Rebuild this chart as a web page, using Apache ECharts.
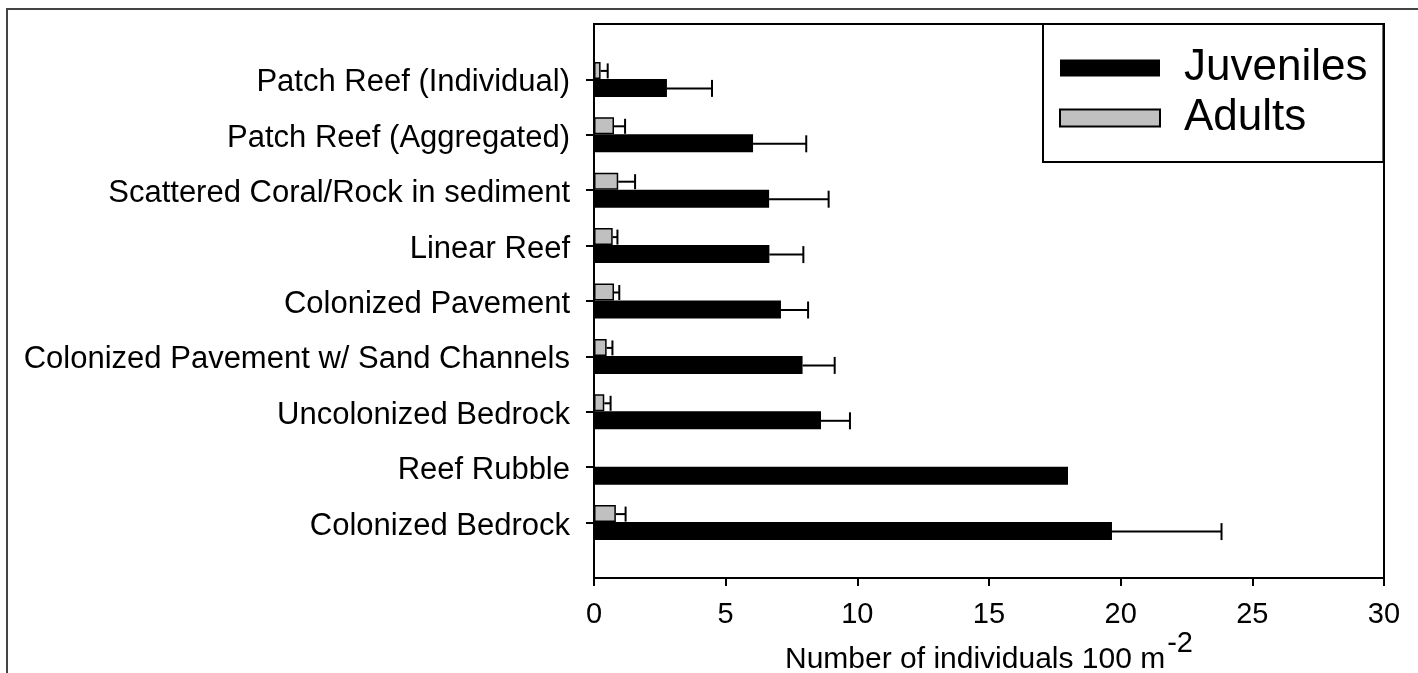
<!DOCTYPE html>
<html>
<head>
<meta charset="utf-8">
<script src="https://cdn.jsdelivr.net/npm/echarts@6/dist/echarts.min.js"></script>
<style>
html,body{margin:0;padding:0;background:#fff;}
#chart{width:1418px;height:673px;}
</style>
</head>
<body>
<div id="chart"></div>
<script>
// Categories, top to bottom as drawn
const categories = [
  'Patch Reef (Individual)',
  'Patch Reef (Aggregated)',
  'Scattered Coral/Rock in sediment',
  'Linear Reef',
  'Colonized Pavement',
  'Colonized Pavement w/ Sand Channels',
  'Uncolonized Bedrock',
  'Reef Rubble',
  'Colonized Bedrock'
];
const juvenileMean = [2.77, 6.04, 6.65, 6.66, 7.10, 7.92, 8.62, 18.0, 19.67];
const juvenileSE   = [1.71, 2.02, 2.26, 1.29, 1.03, 1.22, 1.10, null, 4.16];
const adultMean    = [0.25, 0.76, 0.92, 0.71, 0.76, 0.48, 0.39, null, 0.83];
const adultSE      = [0.27, 0.42, 0.64, 0.18, 0.20, 0.22, 0.24, null, 0.37];
const xTicks = [0, 5, 10, 15, 20, 25, 30];

const axisCats = [' '].concat(categories).concat(['  ']);

function barData(arr) {
  return arr.map(v => (v === null ? '-' : v));
}
function errData(mean, se) {
  const out = [];
  mean.forEach((m, i) => {
    if (m !== null && se[i] !== null) out.push([m + se[i], categories[i], m]);
  });
  return out;
}
function errRender(offset, capH) {
  return function (params, api) {
    const end = api.value(0);
    const mean = api.value(2);
    const idx = api.value(1);
    const p0 = api.coord([mean, idx]);
    const p1 = api.coord([end, idx]);
    const y = p0[1] + offset;
    const st = { stroke: '#000', lineWidth: 2 };
    return {
      type: 'group',
      children: [
        { type: 'line', shape: { x1: p0[0], y1: y, x2: p1[0], y2: y }, style: st },
        { type: 'line', shape: { x1: p1[0], y1: y - capH / 2, x2: p1[0], y2: y + capH / 2 }, style: st }
      ]
    };
  };
}

const FONT = "'Liberation Sans', Arial, sans-serif";
const chart = echarts.init(document.getElementById('chart'), null, { renderer: 'canvas' });
chart.setOption({
  backgroundColor: '#fff',
  animation: false,
  textStyle: { fontFamily: FONT, color: '#000' },
  graphic: [{
    type: 'polyline',
    shape: { points: [[7, 673], [7, 9], [1418, 9]] },
    style: { stroke: '#444', lineWidth: 2, fill: null },
    z: 100
  }],
  grid: {
    left: 594, right: 34, top: 24, bottom: 95,
    containLabel: false, outerBoundsMode: 'none',
    show: true, borderColor: '#000', borderWidth: 2, backgroundColor: 'transparent'
  },
  legend: {
    orient: 'vertical',
    left: 1043, top: 24,
    data: ['Juveniles', 'Adults'],
    icon: 'rect',
    backgroundColor: '#fff',
    borderColor: '#000', borderWidth: 2, borderRadius: 0,
    padding: [22, 16, 22, 16],
    itemWidth: 100, itemHeight: 17, itemGap: 6,
    textStyle: { fontSize: 44, fontFamily: FONT, color: '#000', padding: [0, 0, 0, 19] },
    selectedMode: false
  },
  xAxis: {
    type: 'value', min: 0, max: 30, interval: 5,
    axisLine: { show: true, lineStyle: { color: '#000', width: 2 } },
    axisTick: { show: true, inside: false, length: 8, lineStyle: { color: '#000', width: 2 } },
    axisLabel: { fontSize: 29, color: '#000', margin: 22, fontFamily: FONT,
      formatter: v => (xTicks.indexOf(v) >= 0 ? String(v) : '') },
    splitLine: { show: false },
    name: '{a|Number of individuals 100 m}{b|-2}',
    nameLocation: 'middle', nameGap: 51, nameMoveOverlap: false,
    nameTextStyle: {
      rich: {
        a: { fontSize: 30, fontFamily: FONT, color: '#000', lineHeight: 32, verticalAlign: 'bottom' },
        b: { fontSize: 29, fontFamily: FONT, color: '#000', lineHeight: 46, verticalAlign: 'top', padding: [0, 0, 0, 2] }
      }
    }
  },
  yAxis: {
    type: 'category', data: axisCats, inverse: true, boundaryGap: false,
    axisLine: { show: true, lineStyle: { color: '#000', width: 2 } },
    axisTick: { show: true, inside: false, length: 8, lineStyle: { color: '#000', width: 2 },
      interval: (i, v) => v.trim() !== '' },
    axisLabel: { color: '#000', margin: 24, interval: 0,
      formatter: v => '{l|' + v + '}',
      rich: { l: { fontSize: 31, fontFamily: FONT, color: '#000', lineHeight: 31, padding: [7, 0, 0, 0] } } },
    splitLine: { show: false }
  },
  series: [
    {
      name: 'Adults', type: 'bar',
      data: [null].concat(barData(adultMean)).concat([null]),
      barWidth: 17, barGap: '0%',
      itemStyle: { color: '#c0c0c0', borderColor: '#000', borderWidth: 1.5 },
      z: 2
    },
    {
      name: 'Juveniles', type: 'bar',
      data: [null].concat(barData(juvenileMean)).concat([null]),
      barWidth: 18, barGap: '0%',
      itemStyle: { color: '#000' },
      z: 2
    },
    {
      name: 'AdultsErr', type: 'custom',
      data: errData(adultMean, adultSE),
      encode: { x: 0, y: 1 },
      renderItem: errRender(-8.5, 15),
      z: 3, silent: true
    },
    {
      name: 'JuvErr', type: 'custom',
      data: errData(juvenileMean, juvenileSE),
      encode: { x: 0, y: 1 },
      renderItem: errRender(9, 17),
      z: 3, silent: true
    }
  ]
});
</script>
</body>
</html>
